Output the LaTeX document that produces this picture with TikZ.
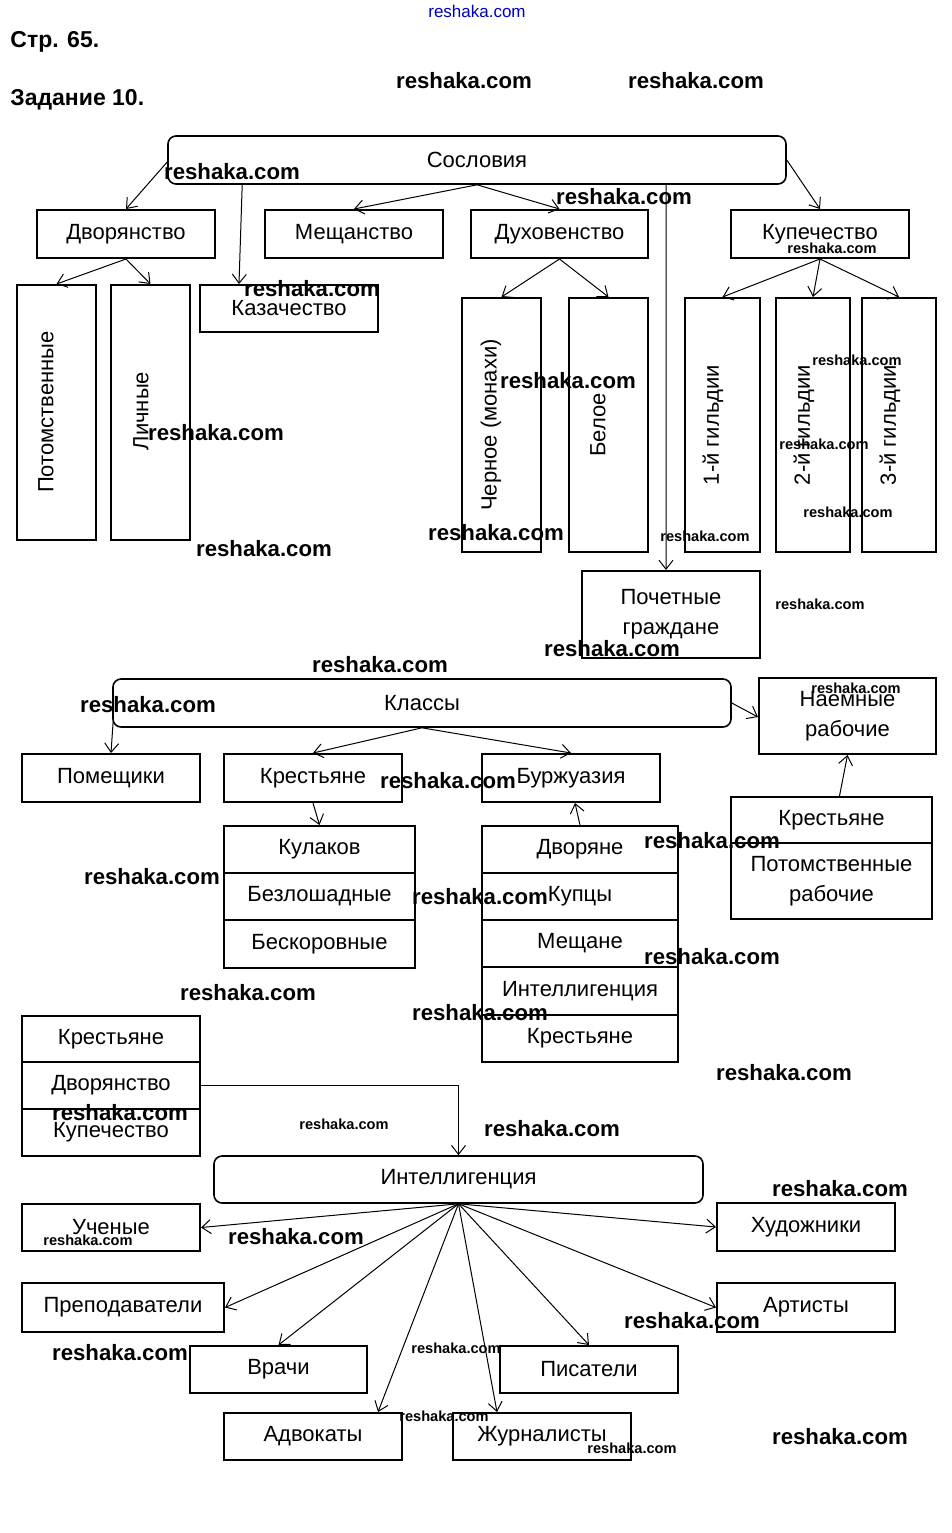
\documentclass[tikz,border=0pt]{standalone}
\usepackage{fontspec}
\setmainfont{Liberation Sans}
\usetikzlibrary{arrows.meta,calc}
\newcommand\lbl{\fontsize{11}{15}\selectfont}
\tikzset{
 box/.style={draw, line width=1pt, inner sep=0pt, align=center, font=\lbl},
 rbox/.style={draw, rounded corners=4pt, line width=0.8pt, inner sep=0pt, align=center, font=\lbl},
 vtext/.style={rotate=90, font=\lbl, inner sep=0pt},
 arr/.style={-{Straight Barb[length=4.5pt,width=7pt]}, line width=0.5pt},
 wmb/.style={font=\bfseries\fontsize{11.1}{13}\selectfont, inner sep=0pt},
 wms/.style={font=\bfseries\fontsize{7.3}{9}\selectfont, inner sep=0pt},
 wmt/.style={font=\fontsize{8.5}{10}\selectfont, text=blue!75!black, inner sep=0pt},
 hdr/.style={font=\bfseries\fontsize{11.5}{14}\selectfont, anchor=west, inner sep=0pt},
}
\newcommand\bx[7][box]{\node[#1, minimum width={(#5-#3)*0.5pt}, minimum height={(#6-#4)*0.5pt}] (#2) at ({(#3+#5)/2},{(#4+#6)/2}) {#7};}
\begin{document}
\begin{tikzpicture}[x=0.5pt,y=-0.5pt]
\useasboundingbox (0,0) rectangle (952,1533);
% headers
\node[hdr] (h1) at (10,42) {Стр. 65.};
\node[hdr] (h2) at (10,100) {Задание 10.};
% ---- Сословия
\bx[rbox]{sos}{168}{136}{786}{184}{Сословия}
\bx{dvor}{37}{210}{215}{258}{Дворянство}
\bx{mesh}{265}{210}{443}{258}{Мещанство}
\bx{duh}{471}{210}{648}{258}{Духовенство}
\bx{kup}{731}{210}{909}{258}{Купечество}
\bx{pot}{17}{285}{96}{540}{}
\bx{lich}{111}{285}{190}{540}{}
\bx{kaz}{200}{285}{378}{332}{Казачество}
\bx{cher}{462}{298}{541}{552}{}
\bx{bel}{569}{298}{648}{552}{}
\bx{g1}{685}{298}{760}{552}{}
\bx{g2}{776}{298}{850}{552}{}
\bx{g3}{862}{298}{936}{552}{}
\bx{poch}{582}{571}{760}{658}{Почетные\\граждане}
\node[vtext] (potT) at (46,412) {Потомственные};
\node[vtext] (lichT) at (141,411) {Личные};
\node[vtext] (cherT) at (491,425) {Черное (монахи)};
\node[vtext] (belT) at (598,425) {Белое};
\node[vtext] (g1T) at (713,425) {1-й гильдии};
\node[vtext] (g2T) at (804,425) {2-й гильдии};
\node[vtext] (g3T) at (890,425) {3-й гильдии};
\draw[arr] ([yshift=-1pt]sos.west) -- (dvor.north);
\draw[arr] ($(sos.south west)+(75,0)$) -- ($(kaz.north west)+(40,0)$);
\draw[arr] (sos.south) -- (mesh.north);
\draw[arr] (sos.south) -- (duh.north);
\draw[arr] (sos.east) -- (kup.north);
\draw[arr] ($(sos.south west)+(499,0)$) -- ($(poch.north west)+(85,0)$);
\draw[arr] (dvor.south) -- (pot.north);
\draw[arr] (dvor.south) -- (lich.north);
\draw[arr] (duh.south) -- (cher.north);
\draw[arr] (duh.south) -- (bel.north);
\draw[arr] (kup.south) -- (g1.north);
\draw[arr] (kup.south) -- (g2.north);
\draw[arr] (kup.south) -- (g3.north);
% ---- Классы
\bx[rbox]{kl}{113}{679}{731}{727}{Классы}
\bx{pom}{22}{754}{200}{802}{Помещики}
\bx{kr}{224}{754}{402}{802}{Крестьяне}
\bx{bur}{482}{754}{660}{802}{Буржуазия}
\bx{naem}{759}{678}{936}{754}{Наемные\\рабочие}
\bx{kr2}{731}{797}{932}{843}{Крестьяне}
\bx{potr}{731}{843}{932}{919}{Потомственные\\рабочие}
\bx{kul}{224}{826}{415}{873}{Кулаков}
\bx{bezl}{224}{873}{415}{920}{Безлошадные}
\bx{besk}{224}{920}{415}{968}{Бескоровные}
\bx{dvn}{482}{826}{678}{873}{Дворяне}
\bx{kupc}{482}{873}{678}{920}{Купцы}
\bx{meshn}{482}{920}{678}{967}{Мещане}
\bx{intl}{482}{967}{678}{1015}{Интеллигенция}
\bx{krs}{482}{1015}{678}{1062}{Крестьяне}
\draw[arr] ($(kl.south west)+(1,-7)$) -- (pom.north);
\draw[arr] (kl.south) -- (kr.north);
\draw[arr] (kl.south) -- (bur.north);
\draw[arr] (kl.east) -- ($(naem.west)+(0,1)$);
\draw[arr] ($(kr2.north)+(8,0)$) -- (naem.south);
\draw[arr] (kr.south) -- (kul.north);
\draw[arr] (dvn.north) -- ($(bur.south)+(4,0)$);
% ---- Интеллигенция
\bx{lkr}{22}{1016}{200}{1062}{Крестьяне}
\bx{ldv}{22}{1062}{200}{1109}{Дворянство}
\bx{lkup}{22}{1109}{200}{1156}{Купечество}
\bx[rbox]{int}{214}{1156}{703}{1203}{Интеллигенция}
\bx{uch}{22}{1204}{200}{1251}{Ученые}
\bx{hud}{717}{1203}{895}{1251}{Художники}
\bx{prep}{22}{1283}{224}{1332}{Преподаватели}
\bx{art}{717}{1283}{895}{1332}{Артисты}
\bx{vr}{190}{1346}{367}{1393}{Врачи}
\bx{pis}{500}{1346}{678}{1393}{Писатели}
\bx{adv}{224}{1413}{402}{1460}{Адвокаты}
\bx{zhur}{453}{1413}{631}{1460}{Журналисты}
\draw[arr] (ldv.east) -| (int.north);
\draw[arr] (int.south) -- (uch.east);
\draw[arr] (int.south) -- (hud.west);
\draw[arr] (int.south) -- (prep.east);
\draw[arr] (int.south) -- (art.west);
\draw[arr] (int.south) -- (vr.north);
\draw[arr] (int.south) -- (pis.north);
\draw[arr] (int.south) -- ($(adv.north)+(65,0)$);
\draw[arr] (int.south) -- ($(zhur.north)+(-45,0)$);
% ---- watermarks
\node[wmt] (w0) at (477,11) {reshaka.com};
\node[wmb] (w1) at (464,81) {reshaka.com};
\node[wmb] (w2) at (696,81) {reshaka.com};
\node[wmb] (w3) at (232,172) {reshaka.com};
\node[wmb] (w4) at (624,197) {reshaka.com};
\node[wms] (w5) at (832,248) {reshaka.com};
\node[wmb] (w6) at (312,289) {reshaka.com};
\node[wmb] (w7) at (568,381) {reshaka.com};
\node[wms] (w8) at (857,360) {reshaka.com};
\node[wmb] (w9) at (216,433) {reshaka.com};
\node[wms] (w10) at (824,444) {reshaka.com};
\node[wms] (w11) at (848,512) {reshaka.com};
\node[wmb] (w12) at (264,549) {reshaka.com};
\node[wmb] (w13) at (496,533) {reshaka.com};
\node[wms] (w14) at (705,536) {reshaka.com};
\node[wms] (w15) at (820,604) {reshaka.com};
\node[wmb] (w16) at (612,649) {reshaka.com};
\node[wmb] (w17) at (380,665) {reshaka.com};
\node[wmb] (w18) at (148,705) {reshaka.com};
\node[wms] (w19) at (856,688) {reshaka.com};
\node[wmb] (w20) at (448,781) {reshaka.com};
\node[wmb] (w21) at (712,841) {reshaka.com};
\node[wmb] (w22) at (152,877) {reshaka.com};
\node[wmb] (w23) at (480,897) {reshaka.com};
\node[wmb] (w24) at (712,957) {reshaka.com};
\node[wmb] (w25) at (248,993) {reshaka.com};
\node[wmb] (w26) at (480,1013) {reshaka.com};
\node[wmb] (w27) at (784,1073) {reshaka.com};
\node[wmb] (w28) at (120,1113) {reshaka.com};
\node[wms] (w29) at (344,1124) {reshaka.com};
\node[wmb] (w30) at (552,1129) {reshaka.com};
\node[wmb] (w31) at (840,1189) {reshaka.com};
\node[wms] (w32) at (88,1240) {reshaka.com};
\node[wmb] (w33) at (296,1237) {reshaka.com};
\node[wmb] (w34) at (692,1321) {reshaka.com};
\node[wmb] (w35) at (120,1353) {reshaka.com};
\node[wms] (w36) at (456,1348) {reshaka.com};
\node[wms] (w37) at (444,1416) {reshaka.com};
\node[wms] (w38) at (632,1448) {reshaka.com};
\node[wmb] (w39) at (840,1437) {reshaka.com};
\end{tikzpicture}
\end{document}
